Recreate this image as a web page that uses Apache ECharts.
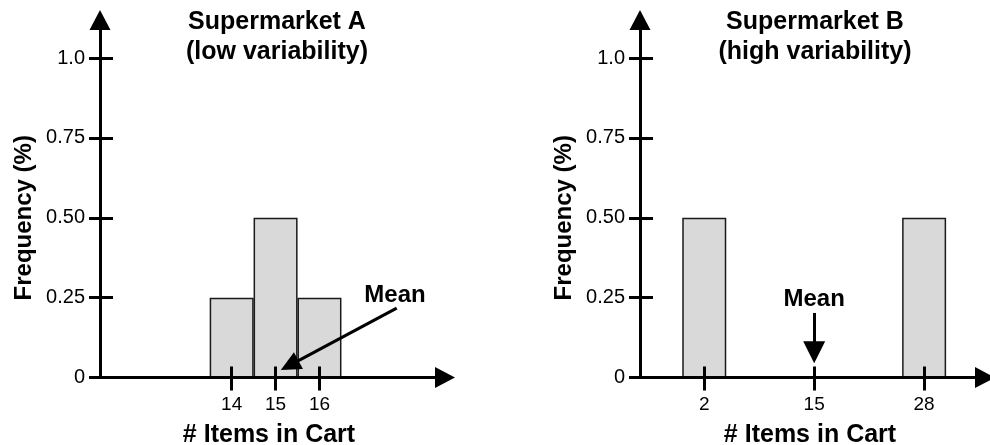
<!DOCTYPE html>
<html><head><meta charset="utf-8">
<script src="https://cdn.jsdelivr.net/npm/echarts@6/dist/echarts.min.js"></script>
<style>html,body{margin:0;padding:0;background:#fff}#c{width:990px;height:445px}</style>
</head><body><div id="c"></div>
<script>
// ---- data ----
const titleA = 'Supermarket A\n(low variability)';
const titleB = 'Supermarket B\n(high variability)';
const xLabel = '# Items in Cart';
const yLabel = 'Frequency (%)';

const itemsA = [14, 15, 16];
const freqA = [0.25, 0.5, 0.25];
const xTicksA = [14, 15, 16];

const itemsB = [2, 28];
const freqB = [0.5, 0.5];
const xTicksB = [2, 15, 28];

const yTicks = [0, 0.25, 0.5, 0.75, 1.0];
const yTickLabels = ['0', '0.25', '0.50', '0.75', '1.0'];

const meanA = 15;
const meanB = 15;
// annotation anchor points in data units [x, y]
const arrowA = { from: [17.76, 0.217], to: [15.32, 0.038] };
const labelA = [17.72, 0.258];
const arrowB = { from: [meanB, 0.202], to: [meanB, 0.079] };
const labelB = [meanB, 0.246];

// ---- chart ----
const FONT = "'Liberation Sans', Arial, Helvetica, sans-serif";
const BLACK = '#000';
const Y_MAX = 1.119;

function yAxesFor(gi) {
  return [
    {
      gridIndex: gi, type: 'value', position: 'left', min: 0, max: Y_MAX,
      axisLine: { show: true, onZero: false, lineStyle: { color: BLACK, width: 3 }, symbol: ['none', 'triangle'], symbolSize: [21, 20] },
      axisTick: { show: true, customValues: yTicks, length: 11, lineStyle: { color: BLACK, width: 3 } },
      axisLabel: { show: true, customValues: yTicks, margin: 15, fontSize: 20, color: BLACK, fontFamily: FONT,
        formatter: v => { const i = yTicks.findIndex(t => Math.abs(t - v) < 1e-9); return i >= 0 ? yTickLabels[i] : ''; } },
      splitLine: { show: false },
      name: yLabel, nameLocation: 'middle', nameGap: 64, nameRotate: 90,
      nameTextStyle: { fontSize: 24, fontWeight: 'bold', color: BLACK, fontFamily: FONT, padding: [0, 38, 0, 0] },
      z: 5
    },
    {
      gridIndex: gi, type: 'value', position: 'left', min: 0, max: Y_MAX,
      axisLine: { show: false, onZero: false },
      axisTick: { show: true, inside: true, customValues: yTicks, length: 13, lineStyle: { color: BLACK, width: 3 } },
      axisLabel: { show: false },
      splitLine: { show: false },
      z: 5
    }
  ];
}

function xAxesFor(gi, min, max, ticks, padRight) {
  return [
    {
      gridIndex: gi, type: 'value', position: 'bottom', min: min, max: max,
      axisLine: { show: true, onZero: false, lineStyle: { color: BLACK, width: 3 }, symbol: ['none', 'triangle'], symbolSize: [21, 20] },
      axisTick: { show: true, customValues: ticks, length: 13, lineStyle: { color: BLACK, width: 3 } },
      axisLabel: { show: true, customValues: ticks, margin: 18, fontSize: 19, color: BLACK, fontFamily: FONT },
      splitLine: { show: false },
      name: xLabel, nameLocation: 'middle', nameGap: 45,
      nameTextStyle: { fontSize: 25, fontWeight: 'bold', color: BLACK, fontFamily: FONT, padding: [0, padRight, 0, 0] },
      z: 5
    },
    {
      gridIndex: gi, type: 'value', position: 'bottom', min: min, max: max,
      axisLine: { show: false, onZero: false },
      axisTick: { show: true, inside: true, customValues: ticks, length: 11, lineStyle: { color: BLACK, width: 3 } },
      axisLabel: { show: false },
      splitLine: { show: false },
      z: 5
    }
  ];
}

function meanMarks(arrow, label, headSize) {
  return {
    markLine: {
      silent: true, animation: false,
      symbol: ['none', 'triangle'], symbolSize: headSize,
      lineStyle: { color: BLACK, width: 3, type: 'solid' },
      label: { show: false },
      emphasis: { disabled: true },
      data: [[{ coord: arrow.from }, { coord: arrow.to }]]
    },
    markPoint: {
      silent: true, animation: false,
      symbol: 'circle', symbolSize: 1, itemStyle: { color: 'rgba(0,0,0,0)' },
      label: { show: true, position: 'inside', formatter: 'Mean', fontSize: 24, fontWeight: 'bold', color: BLACK, fontFamily: FONT },
      data: [{ coord: label }]
    }
  };
}

const barStyle = { color: '#d9d9d9', borderColor: '#1a1a1a', borderWidth: 1.5 };
const titleStyle = { fontSize: 25, fontWeight: 'bold', lineHeight: 30, color: BLACK, fontFamily: FONT };

const option = {
  animation: false,
  backgroundColor: '#fff',
  title: [
    { text: titleA, left: 277, top: 7, padding: 0, textAlign: 'center', textStyle: titleStyle },
    { text: titleB, left: 815, top: 7, padding: 0, textAlign: 'center', textStyle: titleStyle }
  ],
  grid: [
    { left: 100, top: 20, width: 345, height: 357.5, outerBoundsMode: 'none', containLabel: false },
    { left: 640, top: 20, width: 345, height: 357.5, outerBoundsMode: 'none', containLabel: false }
  ],
  xAxis: [].concat(xAxesFor(0, 11, 18.86, xTicksA, 7), xAxesFor(1, -5.6, 35.2, xTicksB, 5)),
  yAxis: [].concat(yAxesFor(0), yAxesFor(1)),
  series: [
    Object.assign({
      type: 'bar', xAxisIndex: 0, yAxisIndex: 0, barWidth: 44,
      data: itemsA.map((x, i) => [x, freqA[i]]), itemStyle: barStyle, silent: true
    }, meanMarks(arrowA, labelA, [19, 20])),
    Object.assign({
      type: 'bar', xAxisIndex: 2, yAxisIndex: 2, barWidth: 44,
      data: itemsB.map((x, i) => [x, freqB[i]]), itemStyle: barStyle, silent: true
    }, meanMarks(arrowB, labelB, [22, 22]))
  ]
};

const chart = echarts.init(document.getElementById('c'), null, { renderer: 'canvas' });
chart.setOption(option);
</script>
</body></html>
